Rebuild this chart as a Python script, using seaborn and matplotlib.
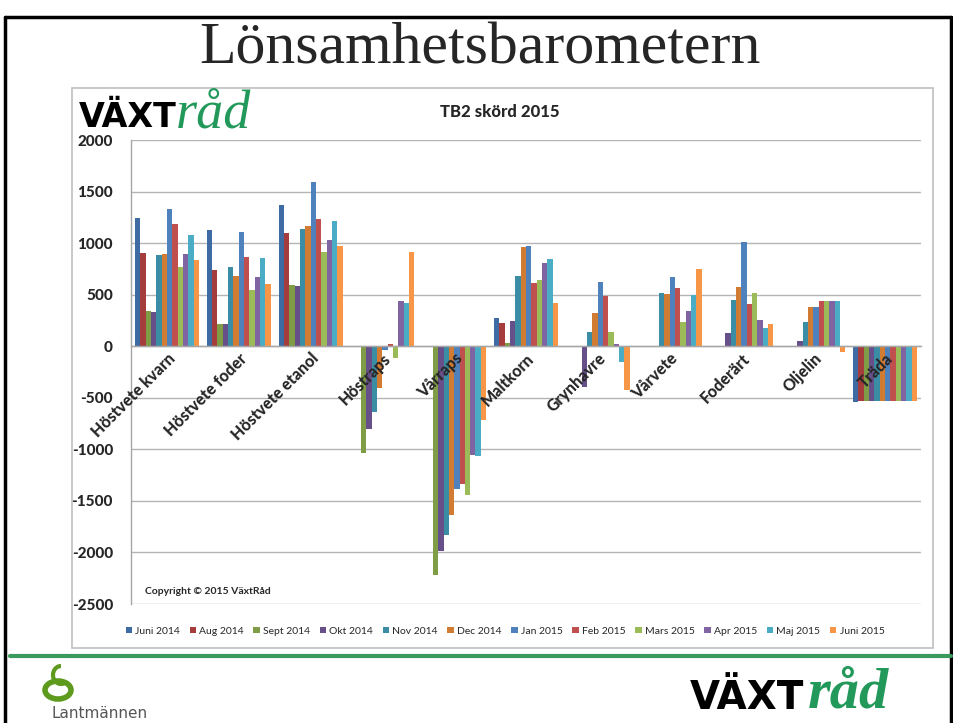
import numpy as np
import pandas as pd
import matplotlib
matplotlib.use("Agg")
import matplotlib.pyplot as plt
from matplotlib.lines import Line2D
from matplotlib.patches import Rectangle, Ellipse, Arc
import seaborn as sns

sns.set_theme(style="white")
plt.rcParams['font.family'] = ['Lato', 'DejaVu Sans']
plt.rcParams['axes.unicode_minus'] = False

# grödor (kategorier)
categories = ["Höstvete kvarn", "Höstvete foder", "Höstvete etanol", "Höstraps", "Vårraps",
              "Maltkorn", "Grynhavre", "Vårvete", "Foderärt", "Oljelin", "Träda"]
months = ["Juni 2014", "Aug 2014", "Sept 2014", "Okt 2014", "Nov 2014", "Dec 2014",
          "Jan 2015", "Feb 2015", "Mars 2015", "Apr 2015", "Maj 2015", "Juni 2015"]

# TB2 (kr/ha) per mätning, ordnat efter categories
juni_2014 = [1239, 1129, 1371, None, None, 274, None, None, None, None, -540]
aug_2014 = [903, 735, 1100, None, None, 223, None, None, None, None, -535]
sept_2014 = [339, 219, 594, -1032, -2216, 29, None, None, None, None, -535]
okt_2014 = [329, 216, 584, -807, -1987, 242, -394, None, 126, 55, -535]
nov_2014 = [887, 768, 1135, -639, -1832, 681, 135, 516, 445, 239, -530]
dec_2014 = [897, 677, 1168, -403, -1639, 961, 323, 510, 577, 377, -530]
jan_2015 = [1326, 1106, 1597, -39, -1381, 971, 619, 674, 1010, 377, -530]
feb_2015 = [1190, 864, 1229, 23, -1339, 610, 484, 561, 413, 439, -530]
mars_2015 = [771, 542, 913, -113, -1442, 642, 139, 239, 516, 435, -530]
apr_2015 = [894, 668, 1032, 435, -1058, 807, 23, 342, 252, 435, -530]
maj_2015 = [1074, 852, 1216, 423, -1065, 845, -155, 500, 181, 435, -530]
juni_2015 = [832, 606, 974, 913, -716, 419, -429, 748, 216, -52, -530]

series = [juni_2014, aug_2014, sept_2014, okt_2014, nov_2014, dec_2014,
          jan_2015, feb_2015, mars_2015, apr_2015, maj_2015, juni_2015]
colors = ["#3F6BA5", "#A43D3B", "#7F9C46", "#67508A", "#3B8DA5", "#D27C33",
          "#4F81BD", "#C0504D", "#9BBB59", "#8064A2", "#4BACC6", "#F79646"]

wide = pd.DataFrame({m: s for m, s in zip(months, series)}, index=categories, dtype=float)
df = wide.reset_index(names="kategori").melt(id_vars="kategori", var_name="månad", value_name="TB2")
df = df.dropna()

fig = plt.figure(figsize=(9.54, 7.23), dpi=100)
ax = fig.add_axes([131 / 954, 1 - 604 / 723, (921 - 131) / 954, (604 - 140) / 723])

sns.barplot(data=df, x="kategori", y="TB2", hue="månad", order=categories, hue_order=months,
            palette=colors, saturation=1, width=0.89, errorbar=None, linewidth=0, ax=ax)

ax.set_ylim(-2500, 2000)
ax.set_xlim(-0.5, len(categories) - 0.5)
ax.set_yticks(np.arange(-2500, 2001, 500))
ax.yaxis.grid(True, color="#b4b4b4", linewidth=1)
ax.set_axisbelow(True)
ax.xaxis.set_zorder(3)  # kategorinamnen ska ligga över staplarna
ax.set_xlabel("")
ax.set_ylabel("")

for side in ["top", "right"]:
    ax.spines[side].set_visible(False)
for side in ["left", "bottom"]:
    ax.spines[side].set_color("#a6a6a6")
    ax.spines[side].set_linewidth(1)
ax.spines["bottom"].set_position(("data", 0))

ax.tick_params(axis="y", length=5, color="#a6a6a6", direction="out", pad=8, labelsize=11)
for t in ax.get_yticklabels():
    t.set_fontweight("black")

ax.set_xticks(np.arange(-0.5, len(categories), 1), minor=True)
ax.tick_params(axis="x", which="minor", length=5, color="#a6a6a6", direction="out")
ax.tick_params(axis="x", which="major", length=0, pad=3)
ax.set_xticks(range(len(categories)))
ax.set_xticklabels(categories, rotation=45, ha="right", va="top", rotation_mode="anchor",
                   fontsize=11.5, fontweight="black")

leg = ax.legend(loc="center", bbox_to_anchor=(505 / 954, 1 - 631 / 723), bbox_transform=fig.transFigure,
                ncol=12, frameon=False, fontsize=7.5, handlelength=0.6, handleheight=0.6,
                handletextpad=0.3, columnspacing=0.95, borderaxespad=0)

# diagrammets titel och copyright
fig.text(500 / 954, 1 - 112 / 723, "TB2 skörd 2015", ha="center", va="center", fontsize=12, fontweight="black")
fig.text(145 / 954, 1 - 592 / 723, "Copyright © 2015 VäxtRåd", ha="left", va="center", fontsize=7.5,
         fontweight="bold")

# bildrubrik
fig.text(480 / 954, 1 - 49 / 723, "Lönsamhetsbarometern", ha="center", va="center",
         fontsize=43, family="Liberation Serif")

# ram runt diagrammet
fig.patches.append(Rectangle((72 / 954, 1 - 648 / 723), (933 - 72) / 954, (648 - 88) / 723,
                             transform=fig.transFigure, fill=False, edgecolor="#bfbfbf", linewidth=1.2))
# bildram och grön linje
fig.lines.append(Line2D([5 / 954, 5 / 954], [0, 1 - 17 / 723], transform=fig.transFigure, color="black", lw=2.5))
fig.lines.append(Line2D([5 / 954, 951 / 954], [1 - 17 / 723, 1 - 17 / 723], transform=fig.transFigure, color="black", lw=2.5))
fig.lines.append(Line2D([951 / 954, 951 / 954], [0, 1 - 17 / 723], transform=fig.transFigure, color="black", lw=2.5))
fig.lines.append(Line2D([10 / 954, 951 / 954], [1 - 656 / 723, 1 - 656 / 723], transform=fig.transFigure,
                        color="#3a9a5c", lw=3))

# VäxtRåd-logga i diagrammet
green = "#22995a"
fig.text(79 / 954, 1 - 127 / 723, "VÄXT", ha="left", va="baseline", fontsize=24,
         family="DejaVu Sans", fontweight="heavy", color="black")
fig.text(176 / 954, 1 - 127 / 723, "råd", ha="left", va="baseline", fontsize=39,
         family="Liberation Serif", style="italic", color=green)

# VäxtRåd-logga nere till höger
fig.text(690 / 954, 1 - 709 / 723, "VÄXT", ha="left", va="baseline", fontsize=28,
         family=["DejaVu Sans Condensed", "DejaVu Sans"], fontweight="heavy", color="black")
fig.text(808 / 954, 1 - 708 / 723, "råd", ha="left", va="baseline", fontsize=42,
         family="Liberation Serif", style="italic", fontweight="bold", color=green)

# Lantmännen-logga
fig.patches.append(Ellipse((58 / 954, 1 - 690 / 723), 26 / 954, 18 / 723, transform=fig.transFigure,
                           fill=False, edgecolor="#5e9a1e", linewidth=4))
fig.patches.append(Arc((61 / 954, 1 - 675 / 723), 16 / 954, 18 / 723, theta1=90, theta2=300,
                       transform=fig.transFigure, edgecolor="#5e9a1e", linewidth=3))
fig.text(52 / 954, 1 - 713 / 723, "Lantmännen", ha="left", va="center", fontsize=11,
         family=["Liberation Sans Narrow", "DejaVu Sans"], color="#555555")

fig.savefig("out.png", dpi=100)
